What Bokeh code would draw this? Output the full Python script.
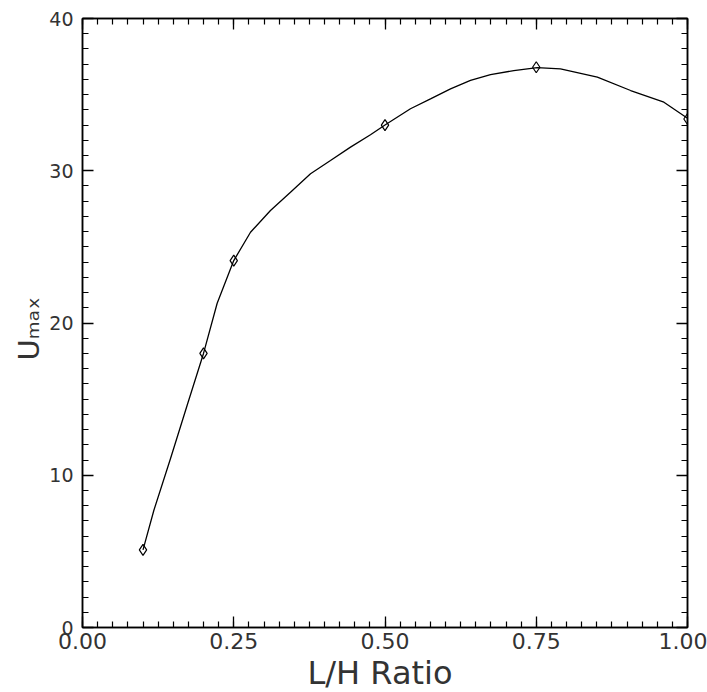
from bokeh.plotting import figure
from bokeh.models import (Range1d, LinearAxis, SingleIntervalTicker, NumeralTickFormatter,
                          CustomJSTickFormatter, Title)
from bokeh.embed import file_html
from bokeh.resources import INLINE

# Measured data points (diamonds)
lh_ratio = [0.10, 0.20, 0.25, 0.50, 0.75, 1.00]
u_max = [5.1, 18.0, 24.1, 33.0, 36.8, 33.4]

# Smooth fitted curve
curve_x = [0.100, 0.118, 0.1455, 0.173, 0.200, 0.2226, 0.250, 0.2777, 0.3107, 0.3438,
           0.3769, 0.4099, 0.443, 0.476, 0.500, 0.5421, 0.5752, 0.6083, 0.6413, 0.6744,
           0.7129, 0.7515, 0.790, 0.851, 0.906, 0.961, 1.000]
curve_y = [5.1, 7.7, 11.1, 14.6, 18.0, 21.3, 24.1, 25.96, 27.39, 28.59,
           29.80, 30.67, 31.55, 32.36, 33.0, 34.07, 34.72, 35.38, 35.93, 36.32,
           36.58, 36.78, 36.69, 36.15, 35.27, 34.5, 33.45]

x_title = "L/H Ratio"
y_title = "U\u2098\u2090\u2093"   # U with subscript "max"

x_ticks_interval = 0.25
y_ticks_interval = 10

W, H = 707, 692
LEFT, TOP, RIGHT, BOTTOM = 82, 18, 20, 65
FONT = "DejaVu Sans"
TXT = "#333333"

p = figure(width=W, height=H, output_backend="svg", toolbar_location=None,
           x_range=Range1d(0, 1), y_range=Range1d(0, 40),
           x_axis_location=None, y_axis_location=None)
p.min_border = 0
p.min_border_left = LEFT
p.min_border_right = RIGHT
p.min_border_top = TOP
p.min_border_bottom = BOTTOM
p.grid.visible = False
p.outline_line_color = "black"
p.outline_line_width = 1.5
p.background_fill_color = "white"
p.border_fill_color = "white"


def make_axis(ticker, show_labels, size, standoff, fmt=None):
    ax = LinearAxis(ticker=ticker)
    ax.major_tick_in = 11
    ax.major_tick_out = 0
    ax.minor_tick_in = 6
    ax.minor_tick_out = 0
    ax.axis_line_color = "black"
    ax.axis_line_width = 1.5
    ax.major_tick_line_color = "black"
    ax.major_tick_line_width = 1.3
    ax.minor_tick_line_color = "black"
    ax.minor_tick_line_width = 1.2
    if show_labels:
        if fmt is not None:
            ax.formatter = fmt
        ax.major_label_text_font = FONT
        ax.major_label_text_font_size = size
        ax.major_label_text_color = TXT
        ax.major_label_standoff = standoff
    else:
        ax.formatter = CustomJSTickFormatter(code="return ''")
        ax.major_label_standoff = 0
    return ax


xt = lambda: SingleIntervalTicker(interval=x_ticks_interval, num_minor_ticks=10)
yt = lambda: SingleIntervalTicker(interval=y_ticks_interval, num_minor_ticks=10)

p.add_layout(make_axis(xt(), True, "22px", 5, NumeralTickFormatter(format="0.00")), "below")
p.add_layout(make_axis(xt(), False, "0px", 0), "above")
p.add_layout(make_axis(yt(), True, "19px", 9), "left")
p.add_layout(make_axis(yt(), False, "0px", 0), "right")

# Axis titles placed in the side panels
p.add_layout(Title(text=x_title, align="left", offset=225, standoff=0,
                   text_font=FONT, text_font_size="32px", text_font_style="normal",
                   text_color=TXT), "below")
p.add_layout(Title(text=y_title, align="left", offset=267, standoff=2,
                   text_font=FONT, text_font_size="29px", text_font_style="normal",
                   text_color=TXT), "left")

p.line(curve_x, curve_y, line_color="black", line_width=1.3)
p.scatter(lh_ratio, u_max, marker="diamond", size=11, fill_color=None,
          line_color="black", line_width=1.2)

open("out.html", "w").write(file_html(p, INLINE))
